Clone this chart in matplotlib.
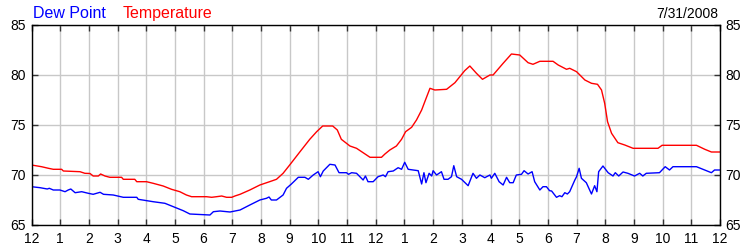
import matplotlib
matplotlib.use("Agg")
import matplotlib.pyplot as plt

# hours since midnight, 7/31/2008
temp_hours = [0, 0.35, 0.59, 0.76, 1.05, 1.11, 1.69, 1.86, 2.04, 2.15, 2.33, 2.41, 2.56, 2.73,
              3.14, 3.2, 3.6, 3.67, 4.01, 4.24, 4.59, 4.88, 5.17, 5.4, 5.58, 6.1, 6.28, 6.45,
              6.63, 6.8, 6.98, 7.09, 7.27, 7.61, 7.96, 8.3, 8.54, 8.77, 9.0, 9.36, 9.7, 9.94,
              10.15, 10.5, 10.66, 10.8, 11.1, 11.33, 11.68, 11.8, 12.2, 12.32, 12.49, 12.72,
              12.9, 13.04, 13.25, 13.42, 13.6, 13.71, 13.89, 14.06, 14.47, 14.76, 14.93, 15.1,
              15.28, 15.51, 15.72, 15.98, 16.09, 16.44, 16.73, 17.02, 17.31, 17.48, 17.72,
              18.18, 18.36, 18.65, 18.76, 19.0, 19.29, 19.52, 19.73, 19.87, 19.98, 20.08,
              20.22, 20.44, 20.68, 20.97, 21.84, 21.98, 23.18, 23.47, 23.7, 24.0]
temp_values = [71.0, 70.83, 70.67, 70.57, 70.57, 70.4, 70.33, 70.17, 70.15, 69.9, 69.9, 70.1,
               69.9, 69.77, 69.77, 69.57, 69.57, 69.33, 69.33, 69.17, 68.9, 68.57, 68.33, 68.0,
               67.83, 67.83, 67.77, 67.83, 67.9, 67.77, 67.77, 67.9, 68.07, 68.5, 69.0, 69.33,
               69.57, 70.17, 71.0, 72.33, 73.57, 74.33, 74.9, 74.9, 74.5, 73.57, 72.9, 72.67,
               72.0, 71.77, 71.77, 72.1, 72.5, 72.9, 73.57, 74.33, 74.77, 75.5, 76.5, 77.33,
               78.67, 78.5, 78.57, 79.23, 79.83, 80.43, 80.9, 80.17, 79.57, 80.0, 80.0, 81.17,
               82.1, 82.0, 81.23, 81.07, 81.37, 81.37, 81.0, 80.57, 80.67, 80.33, 79.5, 79.17,
               79.07, 78.5, 77.17, 75.33, 74.17, 73.23, 73.0, 72.67, 72.67, 72.97, 72.97,
               72.57, 72.3, 72.3]

dew_hours = [0, 0.3, 0.55, 0.62, 0.76, 0.99, 1.17, 1.28, 1.37, 1.52, 1.75, 1.98, 2.15, 2.39,
             2.51, 2.85, 3.2, 3.67, 3.72, 4.24, 4.65, 4.94, 5.29, 5.52, 6.22, 6.34, 6.57, 6.92,
             7.27, 7.61, 7.96, 8.19, 8.28, 8.36, 8.54, 8.77, 8.89, 9.06, 9.3, 9.53, 9.65, 9.82,
             9.99, 10.07, 10.17, 10.4, 10.58, 10.72, 10.98, 11.05, 11.16, 11.33, 11.56, 11.64,
             11.73, 11.91, 12.08, 12.26, 12.34, 12.43, 12.61, 12.78, 12.9, 13.01, 13.13, 13.3,
             13.48, 13.6, 13.68, 13.75, 13.86, 13.95, 14.0, 14.12, 14.29, 14.38, 14.52, 14.64,
             14.72, 14.82, 14.99, 15.22, 15.39, 15.51, 15.63, 15.8, 15.98, 16.03, 16.15, 16.3,
             16.44, 16.56, 16.67, 16.79, 16.9, 17.08, 17.17, 17.31, 17.45, 17.54, 17.72, 17.83,
             17.95, 18.06, 18.13, 18.3, 18.41, 18.49, 18.59, 18.68, 18.76, 18.94, 19.0, 19.09,
             19.17, 19.34, 19.52, 19.63, 19.71, 19.77, 19.92, 20.1, 20.27, 20.35, 20.47, 20.62,
             20.79, 21.02, 21.2, 21.31, 21.43, 21.89, 22.09, 22.24, 22.36, 23.18, 23.7, 23.81,
             24.0]
dew_values = [68.83, 68.73, 68.6, 68.67, 68.5, 68.5, 68.33, 68.5, 68.6, 68.23, 68.33, 68.17,
              68.07, 68.27, 68.07, 68.0, 67.77, 67.77, 67.57, 67.33, 67.17, 66.83, 66.43, 66.1,
              66.0, 66.33, 66.4, 66.3, 66.5, 67.0, 67.5, 67.67, 67.8, 67.5, 67.5, 68.0, 68.67,
              69.1, 69.77, 69.77, 69.57, 70.0, 70.33, 69.83, 70.4, 71.07, 71.0, 70.23, 70.23,
              70.07, 70.23, 70.17, 69.5, 69.9, 69.33, 69.33, 69.83, 70.0, 69.83, 70.33, 70.4,
              70.73, 70.57, 71.27, 70.57, 70.5, 70.43, 69.1, 70.23, 69.23, 70.17, 69.9, 70.43,
              70.0, 70.33, 69.57, 69.57, 69.83, 70.93, 69.83, 69.57, 68.93, 70.17, 69.67, 70.0,
              69.73, 70.0, 69.67, 70.17, 69.33, 69.0, 69.77, 69.23, 69.23, 70.0, 70.07, 70.43,
              70.1, 70.33, 69.33, 68.5, 68.83, 68.83, 68.43, 68.4, 67.77, 67.93, 67.83, 68.23,
              68.1, 68.33, 69.5, 69.83, 70.67, 69.67, 69.23, 68.1, 68.93, 68.33, 70.33, 70.9,
              70.23, 69.9, 70.23, 69.9, 70.3, 70.17, 69.9, 70.17, 69.9, 70.17, 70.23, 70.83,
              70.5, 70.83, 70.83, 70.23, 70.5, 70.5]

hour_labels = ["12"] + [str(h) for h in range(1, 12)] + ["12"] + [str(h) for h in range(1, 12)] + ["12"]
y_ticks = [65, 70, 75, 80, 85]
date_text = "7/31/2008"

plt.rcParams["font.family"] = ["Liberation Sans", "DejaVu Sans"]

fig = plt.figure(figsize=(7.5, 2.5), dpi=100)
ax = fig.add_axes([0.042, 0.1, 0.918, 0.8])

ax.plot(temp_hours, temp_values, color="#ff0000", lw=1.0)
ax.plot(dew_hours, dew_values, color="#0000ff", lw=1.0)

ax.set_xlim(0, 24)
ax.set_ylim(65, 85)
ax.set_xticks(range(25))
ax.set_xticklabels(hour_labels, fontsize=10)
ax.set_yticks(y_ticks)
ax.set_yticklabels([str(v) for v in y_ticks], fontsize=10)
ax.grid(True, color="#c8c8c8", lw=1.0)
ax.tick_params(direction="in", length=4, width=1, color="#333333",
               top=True, right=True, labelright=True)
ax.tick_params(axis="x", pad=5)
ax.tick_params(axis="y", pad=4)
for s in ax.spines.values():
    s.set_color("black")
    s.set_linewidth(1.0)

fig.text(33 / 750, 1 - 18 / 250, "Dew Point", color="#0000ff", fontsize=11.5, va="baseline")
fig.text(123 / 750, 1 - 18 / 250, "Temperature", color="#ff0000", fontsize=11.5, va="baseline")
fig.text(718 / 750, 1 - 18 / 250, date_text, color="black", fontsize=10, va="baseline", ha="right")

fig.savefig("out.png", dpi=100, facecolor="white")
